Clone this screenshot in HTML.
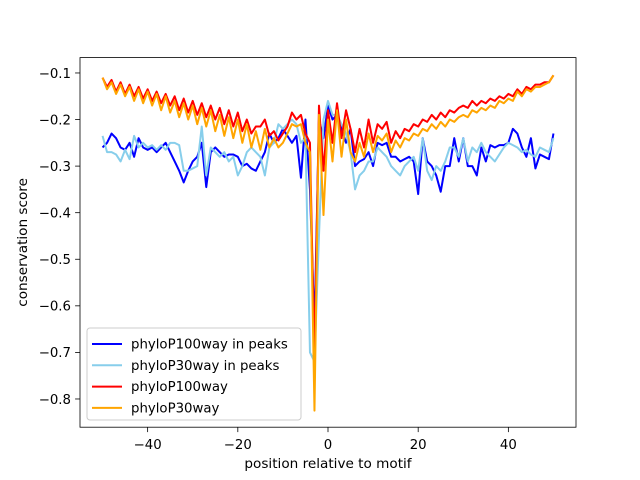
<!DOCTYPE html>
<html><head><meta charset="utf-8"><style>body{margin:0;background:#fff}svg{display:block;font-family:"DejaVu Sans","Liberation Sans",sans-serif}</style></head>
<body>
<svg id="chart" width="640" height="480">
<rect x="0" y="0" width="640" height="480" fill="#fff"/>
<g id="plot"></g>
</svg>
<script>
const positions = [];
for (let i = -50; i <= 50; i++) positions.push(i);
const blueInPeaks = [-0.26,-0.25,-0.23,-0.24,-0.26,-0.265,-0.25,-0.28,-0.24,-0.26,-0.265,-0.26,-0.27,-0.26,-0.25,-0.27,-0.29,-0.31,-0.335,-0.31,-0.29,-0.28,-0.25,-0.345,-0.27,-0.26,-0.27,-0.28,-0.275,-0.275,-0.28,-0.3,-0.295,-0.305,-0.31,-0.29,-0.27,-0.23,-0.25,-0.24,-0.22,-0.235,-0.25,-0.235,-0.325,-0.2,-0.35,-0.65,-0.2,-0.24,-0.17,-0.2,-0.19,-0.22,-0.25,-0.22,-0.3,-0.29,-0.285,-0.27,-0.3,-0.25,-0.255,-0.25,-0.28,-0.28,-0.29,-0.285,-0.28,-0.29,-0.36,-0.24,-0.29,-0.3,-0.32,-0.355,-0.3,-0.3,-0.24,-0.29,-0.24,-0.3,-0.3,-0.32,-0.26,-0.29,-0.255,-0.26,-0.255,-0.255,-0.25,-0.22,-0.23,-0.26,-0.28,-0.24,-0.305,-0.275,-0.28,-0.285,-0.23];
const lightInPeaks = [-0.235,-0.27,-0.27,-0.275,-0.29,-0.265,-0.285,-0.235,-0.26,-0.25,-0.26,-0.255,-0.265,-0.255,-0.265,-0.25,-0.25,-0.255,-0.31,-0.31,-0.305,-0.3,-0.215,-0.32,-0.26,-0.27,-0.28,-0.27,-0.29,-0.28,-0.32,-0.3,-0.27,-0.26,-0.27,-0.28,-0.32,-0.26,-0.25,-0.21,-0.22,-0.21,-0.2,-0.21,-0.25,-0.24,-0.7,-0.72,-0.45,-0.2,-0.16,-0.19,-0.19,-0.21,-0.23,-0.27,-0.35,-0.32,-0.31,-0.29,-0.29,-0.26,-0.27,-0.28,-0.3,-0.31,-0.32,-0.3,-0.29,-0.28,-0.31,-0.24,-0.31,-0.33,-0.3,-0.31,-0.29,-0.26,-0.26,-0.28,-0.24,-0.29,-0.26,-0.27,-0.25,-0.27,-0.28,-0.29,-0.275,-0.26,-0.25,-0.255,-0.26,-0.27,-0.265,-0.275,-0.28,-0.26,-0.265,-0.27,-0.24];
const red100 = [-0.11,-0.13,-0.115,-0.14,-0.12,-0.145,-0.125,-0.15,-0.13,-0.155,-0.135,-0.16,-0.14,-0.165,-0.145,-0.17,-0.15,-0.18,-0.155,-0.185,-0.16,-0.19,-0.165,-0.195,-0.17,-0.2,-0.175,-0.21,-0.18,-0.215,-0.185,-0.225,-0.2,-0.23,-0.215,-0.215,-0.2,-0.235,-0.225,-0.245,-0.23,-0.215,-0.185,-0.2,-0.19,-0.23,-0.25,-0.72,-0.17,-0.31,-0.18,-0.25,-0.165,-0.24,-0.18,-0.22,-0.27,-0.22,-0.26,-0.2,-0.25,-0.21,-0.22,-0.205,-0.25,-0.225,-0.24,-0.22,-0.225,-0.21,-0.215,-0.2,-0.205,-0.19,-0.2,-0.185,-0.195,-0.18,-0.185,-0.175,-0.17,-0.175,-0.16,-0.17,-0.16,-0.165,-0.155,-0.16,-0.15,-0.155,-0.145,-0.15,-0.135,-0.145,-0.13,-0.135,-0.125,-0.125,-0.12,-0.12,-0.105];
const orange30 = [-0.11,-0.135,-0.12,-0.145,-0.125,-0.15,-0.13,-0.16,-0.135,-0.165,-0.14,-0.17,-0.145,-0.18,-0.15,-0.185,-0.16,-0.195,-0.165,-0.2,-0.17,-0.21,-0.175,-0.215,-0.18,-0.225,-0.19,-0.235,-0.195,-0.24,-0.2,-0.25,-0.21,-0.26,-0.225,-0.265,-0.22,-0.26,-0.24,-0.26,-0.25,-0.23,-0.21,-0.215,-0.21,-0.25,-0.27,-0.825,-0.19,-0.405,-0.2,-0.29,-0.18,-0.28,-0.2,-0.27,-0.29,-0.25,-0.28,-0.23,-0.27,-0.235,-0.245,-0.23,-0.27,-0.245,-0.26,-0.24,-0.245,-0.23,-0.235,-0.22,-0.225,-0.21,-0.22,-0.205,-0.215,-0.2,-0.205,-0.195,-0.19,-0.195,-0.18,-0.185,-0.175,-0.18,-0.17,-0.175,-0.16,-0.165,-0.155,-0.16,-0.14,-0.15,-0.135,-0.14,-0.13,-0.13,-0.125,-0.12,-0.105];
const xTicks = [-40,-20,0,20,40];
const yTicks = [-0.1,-0.2,-0.3,-0.4,-0.5,-0.6,-0.7,-0.8];
const seriesNames = ["phyloP100way in peaks","phyloP30way in peaks","phyloP100way","phyloP30way"];
const seriesColors = ["#0000ff","#87ceeb","#ff0000","#ffa500"];
const seriesData = [blueInPeaks, lightInPeaks, red100, orange30];

const L=80,R=576,T=57.6,B=427.2;
const xMin=-55,xMax=55,yMin=-0.8606,yMax=-0.067;
const sx=v=>L+(v-xMin)/(xMax-xMin)*(R-L);
const sy=v=>B-(v-yMin)/(yMax-yMin)*(B-T);
const NS="http://www.w3.org/2000/svg";
const g=document.getElementById('plot');
function mk(tag,attrs,parent){const e=document.createElementNS(NS,tag);for(const k in attrs)e.setAttribute(k,attrs[k]);(parent||g).appendChild(e);return e;}

seriesData.forEach((arr,si)=>{
  const d=arr.map((v,i)=>(i?'L':'M')+sx(positions[i]).toFixed(2)+' '+sy(v).toFixed(2)).join(' ');
  const p=mk('path',{d:d,fill:'none',stroke:seriesColors[si],'stroke-width':2,'stroke-linejoin':'round'});
  
  
});

const frame=mk('rect',{x:L,y:T,width:R-L,height:B-T,fill:'none',stroke:'#000','stroke-width':0.8});



xTicks.forEach(t=>{
  const x=sx(t);
  mk('line',{x1:x,x2:x,y1:B,y2:B+4.9,stroke:'#000','stroke-width':0.8});
  const tx=mk('text',{x:x,y:B+22,'font-size':13.3,'text-anchor':'middle',fill:'#000'});
  tx.textContent=(t<0?'\u2212'+Math.abs(t):t);
  
  
});
yTicks.forEach(t=>{
  const y=sy(t);
  mk('line',{x1:L-4.9,x2:L,y1:y,y2:y,stroke:'#000','stroke-width':0.8});
  const tx=mk('text',{x:L-9,y:y+4.8,'font-size':13.3,'text-anchor':'end',fill:'#000'});
  tx.textContent='\u2212'+Math.abs(t).toFixed(1);
  
  
});
const xl=mk('text',{x:(L+R)/2,y:468,'font-size':13.6,'text-anchor':'middle',fill:'#000'});
xl.textContent='position relative to motif';


const yl=mk('text',{x:0,y:0,'font-size':13.6,'text-anchor':'middle',fill:'#000',transform:'translate(27,'+((T+B)/2)+') rotate(-90)'});
yl.textContent='conservation score';



const lg=mk('g',{});


mk('rect',{x:87,y:328,width:214,height:92,rx:3,fill:'#fff','fill-opacity':0.8,stroke:'#ccc','stroke-width':1},lg);
seriesNames.forEach((n,i)=>{
  const y=344+i*21.3;
  const ln=mk('line',{x1:92,x2:122,y1:y,y2:y,stroke:seriesColors[i],'stroke-width':2},lg);
  
  
  const tx=mk('text',{x:131,y:y+4.5,'font-size':13.3,fill:'#000'},lg);
  tx.textContent=n;
  
  
});
</script>
</body></html>
